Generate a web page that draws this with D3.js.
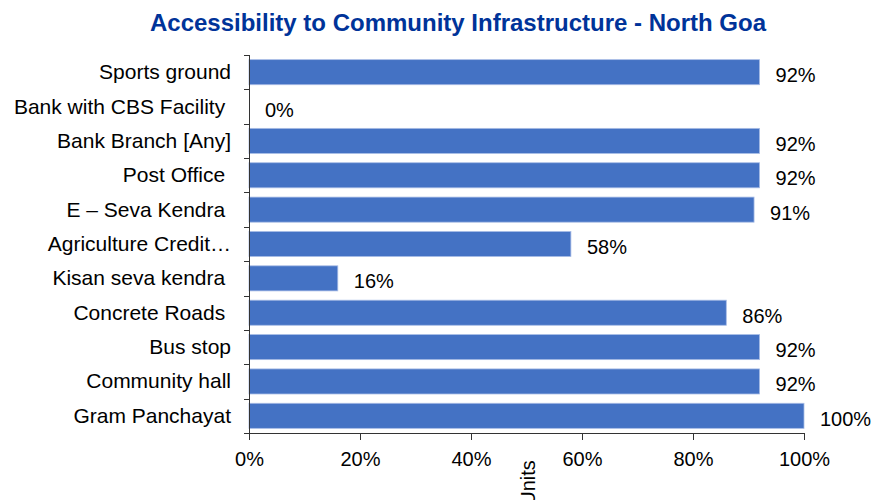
<!DOCTYPE html>
<html lang="en">
<head>
    <meta charset="UTF-8">
    <title>Accessibility to Community Infrastructure - North Goa</title>
    <script src="https://d3js.org/d3.v7.min.js"></script>
    <style>
        body { margin: 0; background: #fff; }
        svg { font-family: "Liberation Sans", Arial, sans-serif; }
    </style>
</head>
<body>
    <div id="chart"></div>
    <script>
        // categories top to bottom, as shown
        const categories = [
            "Sports ground",
            "Bank with CBS Facility ",
            "Bank Branch [Any]",
            "Post Office ",
            "E \u2013 Seva Kendra ",
            "Agriculture Credit\u2026",
            "Kisan seva kendra ",
            "Concrete Roads ",
            "Bus stop",
            "Community hall",
            "Gram Panchayat"
        ];
        const values = [92, 0, 92, 92, 91, 58, 16, 86, 92, 92, 100];
        const tickValues = [0, 20, 40, 60, 80, 100];

        const width = 875, height = 500;
        const margin = {top: 55, left: 249, right: 71, bottom: 67};

        const svg = d3.select("#chart").append("svg")
            .attr("width", width)
            .attr("height", height)
            .attr("viewBox", [0, 0, width, height]);

        const x = d3.scaleLinear()
            .domain([0, 100])
            .range([margin.left, width - margin.right]);

        const y = d3.scaleBand()
            .domain(categories)
            .range([margin.top, height - margin.bottom])
            .paddingInner(0.27)
            .paddingOuter(0.135);

        svg.append("text")
            .attr("x", 458)
            .attr("y", 31)
            .attr("text-anchor", "middle")
            .attr("font-size", 24)
            .attr("font-weight", "bold")
            .attr("fill", "#003399")
            .text("Accessibility to Community Infrastructure - North Goa");

        svg.append("g")
            .selectAll("rect")
            .data(values)
            .join("rect")
            .attr("x", x(0))
            .attr("y", (d, i) => y(categories[i]))
            .attr("width", d => x(d) - x(0))
            .attr("height", y.bandwidth())
            .attr("fill", "#4472C4")
            .attr("stroke", "#a9bde6")
            .attr("stroke-width", 0.8);

        svg.append("g")
            .selectAll("text")
            .data(values)
            .join("text")
            .attr("x", d => x(d) + 16)
            .attr("y", (d, i) => y(categories[i]) + y.bandwidth() / 2 + 10)
            .attr("font-size", 20)
            .attr("fill", "#000")
            .text(d => d + "%");

        // y axis
        const yAxis = svg.append("g")
            .attr("transform", `translate(${margin.left},0)`);
        yAxis.append("line")
            .attr("x1", 0.5).attr("x2", 0.5)
            .attr("y1", margin.top).attr("y2", height - margin.bottom)
            .attr("stroke", "#333");
        const bounds = d3.range(categories.length + 1)
            .map(i => margin.top + i * y.step());
        yAxis.selectAll("line.tick")
            .data(bounds)
            .join("line")
            .attr("class", "tick")
            .attr("x1", -5).attr("x2", 0.5)
            .attr("y1", d => Math.round(d) + 0.5)
            .attr("y2", d => Math.round(d) + 0.5)
            .attr("stroke", "#333");
        yAxis.selectAll("text")
            .data(categories)
            .join("text")
            .attr("x", -18)
            .attr("y", d => y(d) + y.bandwidth() / 2 + 7)
            .attr("text-anchor", "end")
            .attr("font-size", 21)
            .attr("fill", "#000")
            .style("white-space", "pre")
            .text(d => d);

        // x axis
        const xAxis = svg.append("g")
            .attr("transform", `translate(0,${height - margin.bottom})`)
            .call(d3.axisBottom(x)
                .tickValues(tickValues)
                .tickSize(7)
                .tickSizeOuter(0)
                .tickPadding(12)
                .tickFormat(d => d + "%"));
        xAxis.select(".domain").attr("stroke", "#333");
        xAxis.selectAll(".tick line").attr("stroke", "#333");
        xAxis.selectAll(".tick text")
            .attr("font-size", 20)
            .attr("font-family", "Liberation Sans, Arial, sans-serif")
            .attr("fill", "#000");

        svg.append("text")
            .attr("transform", "translate(535,483) rotate(-90)")
            .attr("text-anchor", "middle")
            .attr("font-size", 20)
            .attr("fill", "#000")
            .text("Units");
    </script>
</body>
</html>
